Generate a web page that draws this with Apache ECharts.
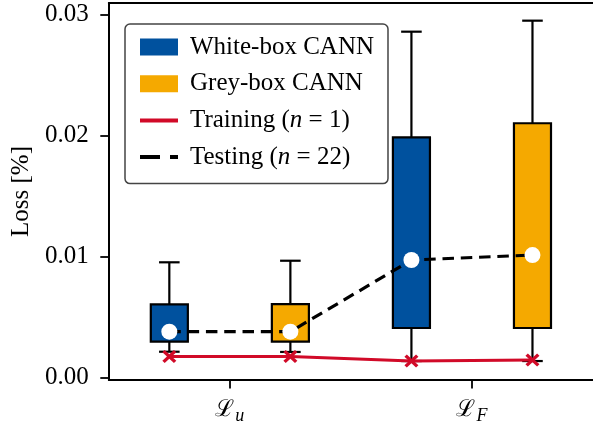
<!DOCTYPE html>
<html>
<head>
<meta charset="utf-8">
<script src="https://cdn.jsdelivr.net/npm/echarts@6/dist/echarts.min.js"></script>
<style>
  html, body { margin: 0; padding: 0; background: #fff; }
  #chart { width: 593px; height: 426px; }
</style>
</head>
<body>
<div id="chart"></div>
<script>
// Loss function variants on the x axis (script L with a subscript)
const lossSubscripts = ['u', 'F'];

// Box statistics per loss variant: [lower whisker, Q1, Q3, upper whisker]
const whiteBoxStats = [
  [0.00213, 0.00296, 0.00605, 0.00952],
  [0.00136, 0.00409, 0.01985, 0.02858]
];
const greyBoxStats = [
  [0.00211, 0.00296, 0.00607, 0.00965],
  [0.00136, 0.00409, 0.02101, 0.02949]
];

// Mean testing loss (n = 22)
const whiteBoxTestMean = [0.00379, 0.00971];
const greyBoxTestMean = [0.00379, 0.01012];

// Training loss (n = 1)
const whiteBoxTrain = [0.00174, 0.00136];
const greyBoxTrain = [0.00174, 0.00145];

// Y axis tick values
const yTicks = [0, 0.01, 0.02, 0.03];

// Layout of the boxes around each category position
const BOX_OFFSET = 0.25;
const BOX_WIDTH = 0.153;
const CAP_WIDTH = 0.085;

const BLUE = '#00519E';
const ORANGE = '#F5A900';
const RED = '#D10A28';
const FONT = '"Liberation Serif", "DejaVu Serif", serif';
const FS = 25;

const whitePos = lossSubscripts.map((_, i) => i - BOX_OFFSET);
const greyPos = lossSubscripts.map((_, i) => i + BOX_OFFSET);

const boxData = (pos, stats) => stats.map((s, i) => [pos[i]].concat(s));

// Interleave white/grey points along x for the connecting lines
function interleave(a, b) {
  const out = [];
  for (let i = 0; i < lossSubscripts.length; i++) {
    out.push([whitePos[i], a[i]]);
    out.push([greyPos[i], b[i]]);
  }
  return out;
}
const testLine = interleave(whiteBoxTestMean, greyBoxTestMean);
const trainLine = interleave(whiteBoxTrain, greyBoxTrain);

function renderBox(params, api) {
  const x = api.value(0);
  const pMin = api.coord([x, api.value(1)]);
  const pQ1 = api.coord([x, api.value(2)]);
  const pQ3 = api.coord([x, api.value(3)]);
  const pMax = api.coord([x, api.value(4)]);
  const bw = api.size([BOX_WIDTH, 0])[0];
  const cw = api.size([CAP_WIDTH, 0])[0];
  const cx = pQ1[0];
  const stroke = { stroke: '#000', lineWidth: 2.2 };
  return {
    type: 'group',
    children: [
      { type: 'line', shape: { x1: cx, y1: pQ3[1], x2: cx, y2: pMax[1] }, style: stroke },
      { type: 'line', shape: { x1: cx, y1: pQ1[1], x2: cx, y2: pMin[1] }, style: stroke },
      { type: 'line', shape: { x1: cx - cw / 2, y1: pMax[1], x2: cx + cw / 2, y2: pMax[1] }, style: stroke },
      { type: 'line', shape: { x1: cx - cw / 2, y1: pMin[1], x2: cx + cw / 2, y2: pMin[1] }, style: stroke },
      {
        type: 'rect',
        shape: { x: cx - bw / 2, y: pQ3[1], width: bw, height: pQ1[1] - pQ3[1] },
        style: { fill: api.visual('color'), stroke: '#000', lineWidth: 2.2 }
      }
    ]
  };
}

const X_CROSS = 'path://M1.7,0 L5,3.3 L8.3,0 L10,1.7 L6.7,5 L10,8.3 L8.3,10 L5,6.7 L1.7,10 L0,8.3 L3.3,5 L0,1.7 Z';

const chart = echarts.init(document.getElementById('chart'), null, { renderer: 'canvas' });

chart.setOption({
  animation: false,
  backgroundColor: '#fff',
  grid: { left: 108.8, top: 3, width: 491.4, bottom: 46, containLabel: false },
  legend: {
    orient: 'vertical',
    left: 125,
    top: 24,
    padding: [10.5, 14, 14, 13],
    itemWidth: 38,
    itemHeight: 17,
    itemGap: 11.7,
    borderColor: '#444',
    borderWidth: 1.5,
    borderRadius: 5,
    backgroundColor: '#fff',
    textStyle: {
      fontFamily: FONT,
      fontSize: FS,
      lineHeight: 25,
      color: '#000',
      padding: [0, 0, 0, 7],
      rich: {
        i: { fontFamily: FONT, fontSize: FS, fontStyle: 'italic', color: '#000' }
      }
    },
    formatter: name => name.replace('(n', '({i|n}'),
    data: [
      { name: 'White-box CANN', icon: 'rect', itemStyle: { borderWidth: 0 } },
      { name: 'Grey-box CANN', icon: 'rect', itemStyle: { borderWidth: 0 } },
      { name: 'Training (n = 1)', itemStyle: { opacity: 0 }, lineStyle: { width: 4 } },
      { name: 'Testing (n = 22)', itemStyle: { opacity: 0 }, lineStyle: { width: 4, type: [20, 10] } }
    ]
  },
  xAxis: [
    {
      type: 'value',
      min: -0.5,
      max: 1.5,
      splitLine: { show: false },
      axisLine: { onZero: false, lineStyle: { color: '#000', width: 2 } },
      axisTick: { show: true, length: 8.5, lineStyle: { color: '#000', width: 1.8 }, customValues: [0, 1] },
      axisLabel: {
        customValues: [0, 1],
        margin: 15,
        formatter: v => '{L|ℒ}{s|' + lossSubscripts[Math.round(v)] + '}',
        rich: {
          L: { fontFamily: '"DejaVu Serif", serif', fontSize: 23, color: '#000', lineHeight: 30, verticalAlign: 'middle' },
          s: { fontFamily: FONT, fontSize: 18, fontStyle: 'italic', color: '#000', padding: [12, 0, 0, 1] }
        }
      }
    },
    {
      type: 'value',
      position: 'top',
      min: -0.5,
      max: 1.5,
      splitLine: { show: false },
      axisLine: { show: true, onZero: false, lineStyle: { color: '#000', width: 2 } },
      axisTick: { show: false },
      axisLabel: { show: false }
    }
  ],
  yAxis: {
    type: 'value',
    min: -0.000207,
    max: 0.03095,
    name: 'Loss [%]',
    nameLocation: 'middle',
    nameGap: 75,
    nameTextStyle: { fontFamily: FONT, fontSize: FS, color: '#000' },
    splitLine: { show: false },
    axisLine: { show: true, onZero: false, lineStyle: { color: '#000', width: 2 } },
    axisTick: { show: true, length: 8.5, lineStyle: { color: '#000', width: 1.8 }, customValues: yTicks },
    axisLabel: {
      customValues: yTicks,
      margin: 20,
      fontFamily: FONT,
      fontSize: FS,
      color: '#000',
      formatter: v => v.toFixed(2)
    }
  },
  series: [
    {
      name: 'White-box CANN',
      type: 'custom',
      renderItem: renderBox,
      itemStyle: { color: BLUE },
      encode: { x: 0, y: [1, 2, 3, 4] },
      data: boxData(whitePos, whiteBoxStats),
      z: 2
    },
    {
      name: 'Grey-box CANN',
      type: 'custom',
      renderItem: renderBox,
      itemStyle: { color: ORANGE },
      encode: { x: 0, y: [1, 2, 3, 4] },
      data: boxData(greyPos, greyBoxStats),
      z: 2
    },
    {
      name: 'Testing (n = 22)',
      type: 'line',
      data: testLine,
      symbol: 'none',
      lineStyle: { color: '#000', width: 3.2, type: [11.5, 6.8] },
      itemStyle: { color: '#000' },
      z: 3
    },
    {
      name: 'Training (n = 1)',
      type: 'line',
      data: trainLine,
      symbol: 'none',
      lineStyle: { color: RED, width: 3 },
      itemStyle: { color: RED },
      z: 4
    },
    {
      name: 'Testing mean',
      type: 'scatter',
      data: testLine,
      symbol: 'circle',
      symbolSize: 16,
      itemStyle: { color: '#fff', opacity: 1 },
      z: 5
    },
    {
      name: 'Training value',
      type: 'scatter',
      data: trainLine,
      symbol: X_CROSS,
      symbolSize: [14, 13],
      itemStyle: { color: RED, opacity: 1 },
      z: 6
    }
  ]
});
</script>
</body>
</html>
